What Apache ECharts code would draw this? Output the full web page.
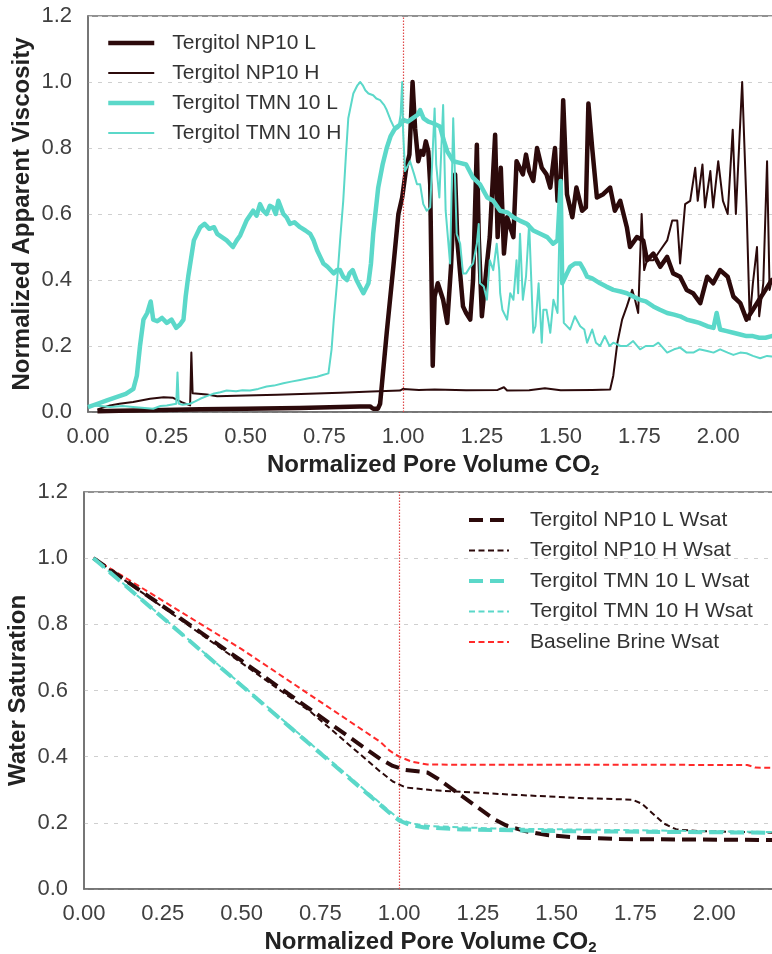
<!DOCTYPE html>
<html>
<head>
<meta charset="utf-8">
<script src="https://cdn.jsdelivr.net/npm/echarts@6/dist/echarts.min.js"></script>
<style>
html,body{margin:0;padding:0;background:#fff;}
#chart{width:772px;height:954px;}
</style>
</head>
<body>
<div id="chart"></div>
<script>
// ---------- Top chart: normalized apparent viscosity ----------
const np10L = [[0.03,0.002],[0.1,0.004],[0.2,0.005],[0.356,0.008],[0.5,0.01],[0.67,0.012],[0.8,0.015],[0.863,0.017],[0.895,0.017],[0.905,0.01],[0.911,0.004],[0.92,0.01],[0.927,0.025],[0.948,0.24],[0.969,0.44],[0.985,0.6],[0.997,0.65],[1.01,0.74],[1.02,0.78],[1.03,1.0],[1.038,0.86],[1.048,0.76],[1.056,0.79],[1.064,0.78],[1.072,0.82],[1.08,0.79],[1.086,0.69],[1.094,0.14],[1.1,0.35],[1.11,0.39],[1.127,0.34],[1.14,0.27],[1.152,0.44],[1.165,0.72],[1.172,0.52],[1.19,0.32],[1.2,0.30],[1.213,0.28],[1.222,0.40],[1.234,0.81],[1.24,0.53],[1.25,0.29],[1.265,0.44],[1.275,0.53],[1.292,0.84],[1.3,0.53],[1.31,0.74],[1.32,0.48],[1.33,0.59],[1.35,0.53],[1.36,0.76],[1.37,0.74],[1.38,0.72],[1.39,0.78],[1.4,0.73],[1.413,0.70],[1.425,0.80],[1.44,0.74],[1.455,0.72],[1.467,0.68],[1.482,0.80],[1.49,0.64],[1.5,0.70],[1.508,0.945],[1.52,0.66],[1.537,0.59],[1.55,0.68],[1.568,0.61],[1.58,0.62],[1.588,0.935],[1.6,0.80],[1.615,0.65],[1.635,0.66],[1.657,0.68],[1.672,0.61],[1.689,0.64],[1.71,0.56],[1.72,0.50],[1.742,0.53],[1.762,0.52],[1.774,0.46],[1.794,0.48],[1.816,0.44],[1.838,0.47],[1.857,0.42],[1.879,0.41],[1.9,0.37],[1.92,0.36],[1.943,0.33],[1.965,0.41],[1.984,0.39],[2.006,0.43],[2.03,0.41],[2.048,0.35],[2.07,0.33],[2.09,0.28],[2.11,0.31],[2.13,0.34],[2.15,0.37],[2.17,0.40],[2.2,0.41]];

const np10H = [[0.03,0.008],[0.07,0.02],[0.1,0.025],[0.143,0.03],[0.197,0.04],[0.24,0.045],[0.27,0.043],[0.297,0.03],[0.324,0.02],[0.328,0.18],[0.332,0.057],[0.377,0.053],[0.41,0.048],[0.5,0.05],[0.6,0.052],[0.7,0.055],[0.8,0.058],[0.9,0.062],[0.99,0.065],[1.0,0.07],[1.05,0.067],[1.1,0.068],[1.2,0.066],[1.3,0.067],[1.32,0.075],[1.33,0.065],[1.4,0.066],[1.45,0.072],[1.5,0.066],[1.6,0.067],[1.657,0.068],[1.667,0.11],[1.68,0.21],[1.695,0.28],[1.71,0.32],[1.727,0.37],[1.736,0.34],[1.746,0.30],[1.757,0.60],[1.765,0.43],[1.774,0.46],[1.794,0.46],[1.816,0.49],[1.838,0.52],[1.854,0.58],[1.87,0.58],[1.879,0.45],[1.895,0.63],[1.911,0.64],[1.927,0.74],[1.935,0.64],[1.95,0.75],[1.958,0.62],[1.975,0.73],[1.984,0.62],[2.0,0.76],[2.015,0.64],[2.03,0.60],[2.046,0.855],[2.056,0.60],[2.076,1.0],[2.09,0.62],[2.1,0.28],[2.11,0.39],[2.123,0.50],[2.13,0.29],[2.143,0.39],[2.155,0.76],[2.163,0.37],[2.17,0.40],[2.2,0.40]];

const tmn10L = [[0,0.015],[0.03,0.025],[0.06,0.035],[0.09,0.045],[0.12,0.055],[0.144,0.07],[0.155,0.11],[0.165,0.2],[0.176,0.28],[0.188,0.3],[0.199,0.335],[0.207,0.28],[0.22,0.275],[0.235,0.285],[0.25,0.27],[0.265,0.28],[0.28,0.255],[0.292,0.265],[0.303,0.28],[0.31,0.35],[0.318,0.41],[0.336,0.52],[0.356,0.56],[0.37,0.57],[0.385,0.555],[0.40,0.56],[0.41,0.54],[0.425,0.53],[0.44,0.52],[0.46,0.50],[0.472,0.52],[0.483,0.535],[0.503,0.58],[0.524,0.61],[0.535,0.595],[0.546,0.63],[0.556,0.61],[0.567,0.60],[0.577,0.625],[0.587,0.62],[0.596,0.60],[0.604,0.64],[0.62,0.60],[0.63,0.59],[0.641,0.57],[0.655,0.575],[0.673,0.56],[0.69,0.55],[0.705,0.54],[0.716,0.52],[0.727,0.49],[0.737,0.47],[0.747,0.45],[0.76,0.44],[0.78,0.42],[0.79,0.43],[0.80,0.43],[0.81,0.41],[0.822,0.40],[0.83,0.42],[0.84,0.43],[0.852,0.40],[0.863,0.38],[0.874,0.36],[0.89,0.39],[0.898,0.45],[0.905,0.54],[0.921,0.68],[0.935,0.75],[0.948,0.80],[0.96,0.835],[0.975,0.86],[0.99,0.87],[1.0,0.885],[1.015,0.88],[1.03,0.89],[1.045,0.9],[1.054,0.915],[1.065,0.89],[1.08,0.88],[1.095,0.875],[1.117,0.865],[1.13,0.82],[1.14,0.79],[1.159,0.76],[1.18,0.755],[1.2,0.75],[1.222,0.71],[1.244,0.69],[1.267,0.65],[1.286,0.64],[1.308,0.61],[1.33,0.605],[1.35,0.59],[1.37,0.58],[1.393,0.57],[1.413,0.55],[1.435,0.54],[1.457,0.53],[1.476,0.51],[1.49,0.52],[1.5,0.70],[1.505,0.39],[1.52,0.42],[1.53,0.44],[1.545,0.45],[1.562,0.45],[1.574,0.43],[1.584,0.41],[1.6,0.405],[1.625,0.39],[1.645,0.38],[1.667,0.37],[1.69,0.365],[1.71,0.36],[1.73,0.35],[1.752,0.34],[1.77,0.335],[1.794,0.32],[1.815,0.31],[1.838,0.30],[1.86,0.295],[1.879,0.29],[1.9,0.28],[1.921,0.275],[1.94,0.27],[1.965,0.26],[1.985,0.255],[1.995,0.30],[2.006,0.25],[2.027,0.245],[2.048,0.24],[2.07,0.235],[2.09,0.23],[2.11,0.23],[2.13,0.225],[2.15,0.225],[2.17,0.23],[2.2,0.225]];

const tmn10H = [[0.006,0.02],[0.04,0.018],[0.07,0.015],[0.11,0.018],[0.143,0.015],[0.18,0.012],[0.207,0.01],[0.23,0.018],[0.25,0.02],[0.28,0.025],[0.284,0.12],[0.288,0.025],[0.3,0.022],[0.324,0.025],[0.34,0.032],[0.356,0.04],[0.377,0.048],[0.397,0.055],[0.42,0.06],[0.44,0.065],[0.47,0.063],[0.49,0.066],[0.514,0.065],[0.54,0.07],[0.567,0.077],[0.59,0.08],[0.62,0.087],[0.645,0.092],[0.673,0.097],[0.70,0.102],[0.727,0.107],[0.745,0.112],[0.763,0.117],[0.773,0.19],[0.78,0.28],[0.79,0.39],[0.80,0.52],[0.81,0.64],[0.818,0.77],[0.826,0.89],[0.842,0.965],[0.855,0.99],[0.864,1.0],[0.872,0.99],[0.88,0.975],[0.89,0.965],[0.905,0.96],[0.915,0.95],[0.927,0.945],[0.94,0.93],[0.948,0.915],[0.96,0.885],[0.975,0.855],[0.985,0.86],[0.992,0.9],[0.997,1.0],[1.0,0.85],[1.006,0.73],[1.022,0.76],[1.035,0.72],[1.044,0.69],[1.054,0.69],[1.064,0.63],[1.075,0.61],[1.086,0.62],[1.1,0.92],[1.105,0.75],[1.115,0.65],[1.127,0.93],[1.135,0.61],[1.149,0.45],[1.159,0.89],[1.17,0.54],[1.181,0.51],[1.19,0.42],[1.2,0.42],[1.213,0.44],[1.222,0.45],[1.234,0.51],[1.24,0.57],[1.244,0.39],[1.256,0.38],[1.266,0.34],[1.275,0.46],[1.286,0.43],[1.297,0.51],[1.305,0.43],[1.308,0.36],[1.315,0.31],[1.33,0.28],[1.34,0.36],[1.35,0.34],[1.36,0.46],[1.365,0.36],[1.371,0.54],[1.38,0.34],[1.39,0.41],[1.4,0.57],[1.413,0.24],[1.42,0.26],[1.43,0.39],[1.44,0.21],[1.445,0.31],[1.455,0.31],[1.467,0.24],[1.477,0.34],[1.49,0.30],[1.5,0.70],[1.51,0.27],[1.53,0.25],[1.545,0.29],[1.562,0.26],[1.575,0.25],[1.584,0.21],[1.6,0.25],[1.612,0.21],[1.625,0.20],[1.64,0.23],[1.655,0.20],[1.667,0.21],[1.69,0.20],[1.71,0.20],[1.73,0.215],[1.752,0.19],[1.77,0.20],[1.794,0.20],[1.81,0.21],[1.838,0.18],[1.86,0.19],[1.879,0.195],[1.9,0.18],[1.921,0.18],[1.94,0.19],[1.965,0.185],[1.985,0.18],[2.006,0.19],[2.03,0.18],[2.048,0.173],[2.07,0.18],[2.09,0.178],[2.11,0.17],[2.133,0.163],[2.155,0.17],[2.17,0.168],[2.2,0.165]];

// ---------- Bottom chart: water saturation ----------
const np10LWsat = [[0.03,1.0],[0.5,0.69],[0.94,0.393],[0.98,0.372],[1.02,0.36],[1.09,0.352],[1.12,0.335],[1.3,0.212],[1.34,0.192],[1.4,0.175],[1.47,0.163],[1.575,0.155],[1.7,0.151],[2.2,0.148]];
const np10HWsat = [[0.03,1.0],[0.72,0.535],[0.94,0.355],[0.98,0.325],[1.02,0.307],[1.1,0.299],[1.36,0.285],[1.575,0.275],[1.74,0.27],[1.77,0.258],[1.84,0.198],[1.88,0.18],[1.95,0.175],[2.2,0.17]];
const tmn10LWsat = [[0.03,1.0],[0.97,0.23],[1.0,0.207],[1.03,0.195],[1.08,0.186],[1.2,0.18],[1.5,0.175],[2.2,0.17]];
const tmn10HWsat = [[0.03,1.0],[0.97,0.235],[1.0,0.212],[1.04,0.198],[1.1,0.19],[1.3,0.183],[2.2,0.172]];
const baselineWsat = [[0.03,1.0],[0.5,0.725],[0.94,0.445],[0.97,0.418],[1.0,0.4],[1.04,0.385],[1.09,0.376],[2.105,0.375],[2.13,0.367],[2.2,0.366]];

const topNames = ['Tergitol NP10 L','Tergitol NP10 H','Tergitol TMN 10 L','Tergitol TMN 10 H'];
const botNames = ['Tergitol NP10 L Wsat','Tergitol NP10 H Wsat','Tergitol TMN 10 L Wsat','Tergitol TMN 10 H Wsat','Baseline Brine Wsat'];

const DARK = '#2c0a0b', TEAL = '#5bd8c9', RED = '#ff2a2a';
const FONT = 'Liberation Sans, Arial, sans-serif';
const LABEL = '#404040';

const chart = echarts.init(document.getElementById('chart'), null, {renderer:'canvas'});

function xAxis(gridIndex, padRight){
  return {
    gridIndex, type:'value', min:0, max:2.25, interval:0.25,
    name:'Normalized Pore Volume CO{sub|2}', nameLocation:'middle', nameGap:41,
    nameTextStyle:{fontFamily:FONT, fontSize:24, fontWeight:'bold', color:'#222', padding:[0,padRight,0,0],
      rich:{sub:{fontFamily:FONT, fontSize:15, fontWeight:'bold', color:'#222', padding:[10,0,0,0]}}},
    axisLine:{show:true, lineStyle:{color:'#6e6e6e', width:1.5}},
    axisTick:{show:false}, splitLine:{show:false},
    axisLabel:{fontFamily:FONT, fontSize:22, color:LABEL, margin:14, formatter:v=>v.toFixed(2)}
  };
}
function yAxis(gridIndex, name){
  return {
    gridIndex, type:'value', min:0, max:1.2, interval:0.2,
    name, nameLocation:'middle', nameGap:54, nameMoveOverlap:false,
    nameTextStyle:{fontFamily:FONT, fontSize:24, fontWeight:'bold', color:'#222'},
    axisLine:{show:true, lineStyle:{color:'#6e6e6e', width:1.5}},
    axisTick:{show:false},
    splitLine:{show:true, lineStyle:{color:'#cfcfcf', type:[4,6], width:1}},
    axisLabel:{fontFamily:FONT, fontSize:22, color:LABEL, margin:16, formatter:v=>v.toFixed(1)}
  };
}
const vline = {silent:true, symbol:'none', label:{show:false}, animation:false,
  lineStyle:{color:'#e04a4a', type:[1.5,1.5], width:1.2}, data:[{xAxis:1}]};

function line(name, data, xi, color, width, dash, extra){
  return Object.assign({
    type:'line', name, data, xAxisIndex:xi, yAxisIndex:xi,
    showSymbol:false, symbol:'none', animation:false,
    lineStyle:{color, width, type:dash||'solid', cap:'butt', join:'round'},
    itemStyle:{color}
  }, extra||{});
}

const option = {
  backgroundColor:'#fff',
  animation:false,
  grid:[
    {left:88, top:16, width:709, height:396, show:true, borderColor:'#6e6e6e', borderWidth:1.5, backgroundColor:'transparent', outerBoundsMode:'none', containLabel:false},
    {left:84, top:492, width:709, height:397, show:true, borderColor:'#6e6e6e', borderWidth:1.5, backgroundColor:'transparent', outerBoundsMode:'none', containLabel:false}
  ],
  xAxis:[xAxis(0,19), xAxis(1,16)],
  yAxis:[yAxis(0,'Normalized Apparent Viscosity'), yAxis(1,'Water Saturation')],
  legend:[
    {data:topNames, orient:'vertical', left:106, top:32, padding:0, itemWidth:46, itemHeight:14, itemGap:8,
     itemStyle:{opacity:0}, lineStyle:{width:'inherit', type:'inherit'},
     textStyle:{fontFamily:FONT, fontSize:21, color:'#333', lineHeight:22, padding:[0,0,0,13]}},
    {data:botNames, orient:'vertical', left:467, top:509, padding:0, itemWidth:40, itemHeight:14, itemGap:8.5,
     itemStyle:{opacity:0}, lineStyle:{width:'inherit', type:'inherit'},
     textStyle:{fontFamily:FONT, fontSize:21, color:'#333', lineHeight:22, padding:[0,0,0,16]}}
  ],
  series:[
    line(topNames[0], np10L, 0, DARK, 4.5, 'solid', {markLine:vline, z:2}),
    line(topNames[1], np10H, 0, DARK, 2, 'solid', {z:3}),
    line(topNames[2], tmn10L, 0, TEAL, 4.5, 'solid', {z:4}),
    line(topNames[3], tmn10H, 0, TEAL, 2, 'solid', {z:5}),
    line(botNames[0], np10LWsat, 1, DARK, 4, [14,7], {markLine:vline, z:3}),
    line(botNames[1], np10HWsat, 1, DARK, 2, [6,3.5], {z:4}),
    line(botNames[2], tmn10LWsat, 1, TEAL, 4, [14,7], {z:5}),
    line(botNames[3], tmn10HWsat, 1, TEAL, 2, [6,3.5], {z:6}),
    line(botNames[4], baselineWsat, 1, RED, 2, [6,3.5], {z:2})
  ]
};
chart.setOption(option);
</script>
</body>
</html>
